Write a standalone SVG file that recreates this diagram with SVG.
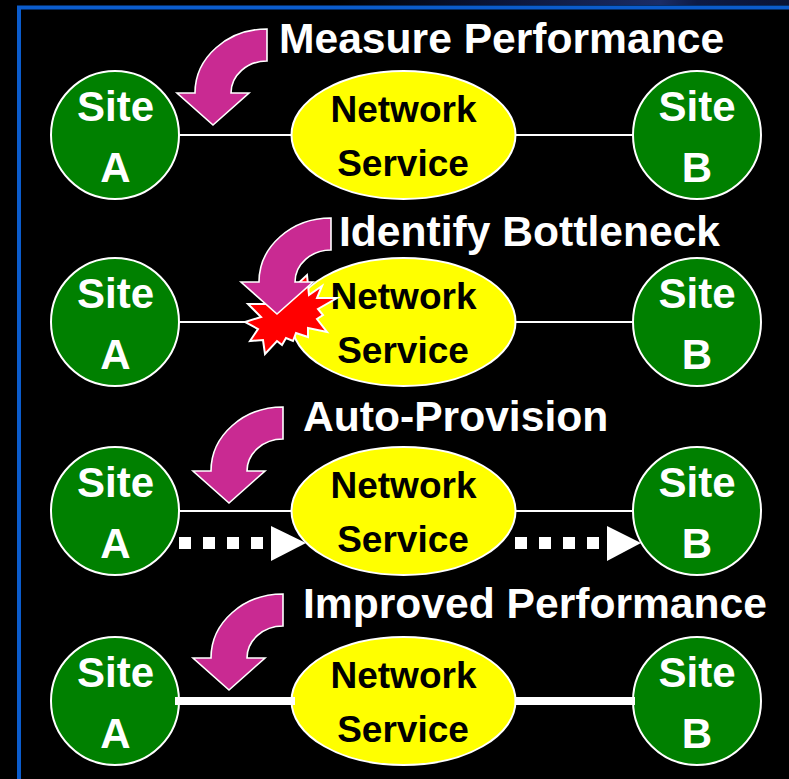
<svg xmlns="http://www.w3.org/2000/svg" xmlns:xlink="http://www.w3.org/1999/xlink" width="789" height="779" viewBox="0 0 789 779">
<style>
.t{font-family:"Liberation Sans",Arial,sans-serif;font-weight:700;text-anchor:middle}
.site{fill:#008000;stroke:#fff;stroke-width:2}
.siteT{fill:#fff;font-size:42px}
.net{fill:#ff0;stroke:#fff;stroke-width:2}
.netT{fill:#000;font-size:37px}
.cap{fill:#fff;font-size:42.6px;text-anchor:start}
.ln{stroke:#fff;stroke-width:2;fill:none}
.thick{stroke:#fff;stroke-width:8;fill:none}
.bend{fill:#c92a92;stroke:#fff;stroke-width:1.6;stroke-linejoin:miter}
.sq{fill:#fff}
</style>
<defs>
<linearGradient id="top" x1="0" x2="1" y1="0" y2="0">
<stop offset="0" stop-color="#000"/><stop offset=".35" stop-color="#0a1436"/><stop offset=".72" stop-color="#1a2c66"/><stop offset=".8" stop-color="#0d1a44"/><stop offset="1" stop-color="#0a1436"/>
</linearGradient>
<path id="bend" class="bend" d="M54,-96V-64A36,32 0 0 0 18,-32H36L0,0L-36,-32H-18A72,64 0 0 1 54,-96Z"/>
<g id="siteA"><circle class="site" cx="115" cy="0" r="64"/><text class="t siteT" x="115.500" y="-14">Site</text><text class="t siteT" x="115.500" y="47">A</text></g>
<g id="siteB"><circle class="site" cx="697" cy="0" r="64"/><text class="t siteT" x="697" y="-14">Site</text><text class="t siteT" x="697" y="47">B</text></g>
<g id="netw"><ellipse class="net" cx="403.500" cy="0" rx="112" ry="64"/><text class="t netT" x="403.500" y="-13">Network</text><text class="t netT" x="403" y="41">Service</text></g>
</defs>
<rect width="789" height="779" fill="#000"/>
<rect x="330" y="0" width="459" height="5" fill="url(#top)"/>
<path d="M19,779V7.500H789" fill="none" stroke="#0b5ccc" stroke-width="4"/>
<g id="row1"><use id="row1-a" href="#siteA" y="135"/><use id="row1-n" href="#netw" y="135"/><use id="row1-b" href="#siteB" y="135"/></g>
<g id="row2"><use id="row2-a" href="#siteA" y="322"/><use id="row2-n" href="#netw" y="322"/><use id="row2-b" href="#siteB" y="322"/></g>
<g id="row3"><use id="row3-a" href="#siteA" y="511"/><use id="row3-n" href="#netw" y="511"/><use id="row3-b" href="#siteB" y="511"/></g>
<g id="row4"><use id="row4-a" href="#siteA" y="701"/><use id="row4-n" href="#netw" y="701"/><use id="row4-b" href="#siteB" y="701"/></g>
<g id="connectors">
<path class="ln" d="M180,135H291M516,135H633M180,322H291M516,322H633M180,511H291M516,511H633"/>
<path class="thick" d="M175,701H295M515,701H635"/>
</g>
<g id="provision-arrows">
<rect class="sq" x="179" y="537" width="12" height="12"/><rect class="sq" x="203" y="537" width="12" height="12"/><rect class="sq" x="227" y="537" width="12" height="12"/><rect class="sq" x="251" y="537" width="12" height="12"/>
<path class="sq" d="M271,526V561L306,543Z"/>
<rect class="sq" x="515" y="537" width="12" height="12"/><rect class="sq" x="539" y="537" width="12" height="12"/><rect class="sq" x="563" y="537" width="12" height="12"/><rect class="sq" x="587" y="537" width="12" height="12"/>
<path class="sq" d="M607,526V561L641,543Z"/>
</g>
<polygon id="burst" points="248,304 276,304 307,275 309,295 322,286 317,298 337,298 318,309 323,315 317,319 327,332 308,328 308,337 296,333 293,341 286,338 282,345 277,341 265,354 263,340 250,341 258,329 245,322 261,317" fill="#f00" stroke="#fff" stroke-width="2"/>
<use id="bend1" href="#bend" x="213" y="125"/>
<use id="bend2" href="#bend" x="277" y="314"/>
<use id="bend3" href="#bend" x="229" y="503"/>
<use id="bend4" href="#bend" x="229" y="690"/>
<text class="t cap" x="279" y="52.500">Measure Performance</text>
<text class="t cap" x="339" y="246">Identify Bottleneck</text>
<text class="t cap" x="303" y="431">Auto-Provision</text>
<text class="t cap" x="303" y="617.500">Improved Performance</text>
</svg>
